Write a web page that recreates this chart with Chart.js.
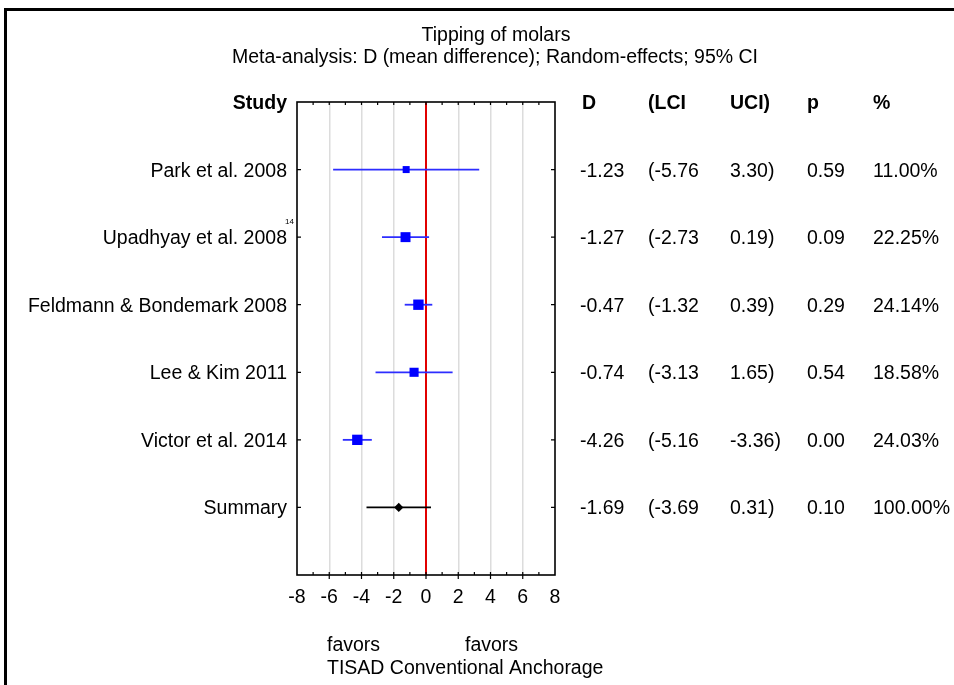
<!DOCTYPE html>
<html>
<head>
<meta charset="utf-8">
<script src="https://cdn.jsdelivr.net/npm/chart.js@4.4.1/dist/chart.umd.min.js"></script>
<style>
html,body{margin:0;padding:0;background:#fff;}
#wrap{position:relative;width:954px;height:685px;}
</style>
</head>
<body>
<div id="wrap"><canvas id="c"></canvas></div>
<script>
// ---- data ----
const studies = ["Park et al. 2008", "Upadhyay et al. 2008", "Feldmann & Bondemark 2008", "Lee & Kim 2011", "Victor et al. 2014", "Summary"];
const meanDiff = [-1.23, -1.27, -0.47, -0.74, -4.26, -1.69];
const lowerCI = [-5.76, -2.73, -1.32, -3.13, -5.16, -3.69];
const upperCI = [3.30, 0.19, 0.39, 1.65, -3.36, 0.31];
const pValues = ["0.59", "0.09", "0.29", "0.54", "0.00", "0.10"];
const weights = [11.00, 22.25, 24.14, 18.58, 24.03, 100.00];
const xTicks = [-8, -6, -4, -2, 0, 2, 4, 6, 8];
const titleLines = ["Tipping of molars", "Meta-analysis: D (mean difference); Random-effects; 95% CI"];
const tableHeaders = ["D", "(LCI", "UCI)", "p", "%"];

const FONT = '"Liberation Sans", Arial, sans-serif';
const BLUE = 'rgb(45,45,255)';
const isSummary = i => i === studies.length - 1;

const datasets = [];
// zero reference line
datasets.push({
  type: 'line', data: [{x: 0, y: 0}, {x: 0, y: 7}],
  borderColor: 'rgb(225,0,0)', borderWidth: 2, pointRadius: 0, order: 3
});
// confidence interval lines
studies.forEach((s, i) => {
  datasets.push({
    type: 'line', data: [{x: lowerCI[i], y: i + 1}, {x: upperCI[i], y: i + 1}],
    borderColor: isSummary(i) ? '#000' : BLUE, borderWidth: 1.8, pointRadius: 0, order: 2
  });
});
// point estimates
datasets.push({
  type: 'scatter',
  data: meanDiff.map((d, i) => ({x: d, y: i + 1})),
  pointStyle: studies.map((s, i) => isSummary(i) ? 'rectRot' : 'rect'),
  pointRadius: weights.map((w, i) => isSummary(i) ? 4.6 : 2.11 * Math.sqrt(w) / 1.414),
  backgroundColor: studies.map((s, i) => isSummary(i) ? '#000' : 'rgb(0,0,255)'),
  borderColor: studies.map((s, i) => isSummary(i) ? '#000' : 'rgb(0,0,255)'),
  borderWidth: 0, order: 1
});

const decor = {
  id: 'decor',
  afterDraw(chart) {
    const ctx = chart.ctx;
    const ca = chart.chartArea;
    const xs = chart.scales.x, ys = chart.scales.y;
    ctx.save();
    // outer border (top & left)
    ctx.strokeStyle = '#000'; ctx.lineWidth = 3;
    ctx.beginPath(); ctx.moveTo(5.5, 700); ctx.lineTo(5.5, 9.5); ctx.lineTo(960, 9.5); ctx.stroke();
    // plot frame
    ctx.lineWidth = 1.6;
    ctx.strokeRect(ca.left, ca.top, ca.right - ca.left, ca.bottom - ca.top);
    // tick marks on top / bottom
    ctx.lineWidth = 1.2;
    for (let v = -7; v <= 7; v++) {
      const px = xs.getPixelForValue(v);
      const major = v % 2 === 0;
      ctx.beginPath();
      ctx.moveTo(px, ca.top); ctx.lineTo(px, ca.top + 3);
      if (major) { ctx.moveTo(px, ca.bottom + 4); ctx.lineTo(px, ca.bottom - 3); }
      else { ctx.moveTo(px, ca.bottom); ctx.lineTo(px, ca.bottom - 3); }
      ctx.stroke();
    }
    // row tick marks on left / right
    studies.forEach((s, i) => {
      const py = ys.getPixelForValue(i + 1);
      ctx.beginPath();
      ctx.moveTo(ca.left, py); ctx.lineTo(ca.left + 4, py);
      ctx.moveTo(ca.right, py); ctx.lineTo(ca.right - 4, py);
      ctx.stroke();
    });
    // titles
    ctx.fillStyle = '#000';
    ctx.font = '19.5px ' + FONT;
    ctx.textAlign = 'center'; ctx.textBaseline = 'alphabetic';
    ctx.fillText(titleLines[0], 496, 41);
    ctx.fillText(titleLines[1], 495, 62.5);
    // Study header
    ctx.font = 'bold 19.5px ' + FONT;
    ctx.textAlign = 'right';
    ctx.fillText('Study', 287, ys.getPixelForValue(0) + 7);
    // study labels
    ctx.font = '19.5px ' + FONT;
    studies.forEach((s, i) => {
      const py = ys.getPixelForValue(i + 1);
      ctx.fillText(s, 287, py + 7);
    });
    // superscript reference
    ctx.font = '8px ' + FONT; ctx.textAlign = 'left';
    ctx.fillText('14', 285, ys.getPixelForValue(2) - 13);
    // table
    const colX = [580, 648, 730, 807, 873];
    ctx.font = 'bold 19.5px ' + FONT; ctx.textAlign = 'left';
    tableHeaders.forEach((h, j) => ctx.fillText(h, colX[j] + (j === 0 ? 2 : 0), ys.getPixelForValue(0) + 7));
    ctx.font = '19.5px ' + FONT;
    studies.forEach((s, i) => {
      const py = ys.getPixelForValue(i + 1) + 7;
      const row = [meanDiff[i].toFixed(2), '(' + lowerCI[i].toFixed(2), upperCI[i].toFixed(2) + ')', pValues[i], weights[i].toFixed(2) + '%'];
      row.forEach((t, j) => ctx.fillText(t, colX[j], py));
    });
    // bottom annotation
    ctx.fillText('favors', 327, 651);
    ctx.fillText('favors', 465, 651);
    ctx.fillText('TISAD Conventional Anchorage', 327, 674);
    ctx.restore();
  }
};

new Chart(document.getElementById('c'), {
  data: {datasets},
  options: {
    responsive: true, maintainAspectRatio: false, animation: false,
    layout: {padding: {top: 102, right: 399, left: 0, bottom: 0}},
    plugins: {legend: {display: false}, tooltip: {enabled: false}, title: {display: false}},
    scales: {
      x: {
        type: 'linear', min: -8, max: 8,
        afterBuildTicks: s => { s.ticks = xTicks.map(v => ({value: v})); },
        afterFit: s => { s.height = 110; },
        ticks: {color: '#000', font: {size: 19.5, family: FONT}, padding: 10.5, maxRotation: 0, autoSkip: false},
        grid: {
          drawTicks: false, lineWidth: 1.5,
          color: c => (c.tick && (c.tick.value === 0 || Math.abs(c.tick.value) === 8)) ? 'rgba(0,0,0,0)' : 'rgb(220,220,220)'
        },
        border: {display: false}
      },
      y: {
        type: 'linear', min: 0, max: 7, reverse: true,
        afterFit: s => { s.width = 297; },
        ticks: {display: false},
        grid: {display: false, drawTicks: false},
        border: {display: false}
      }
    }
  },
  plugins: [decor]
});
</script>
</body>
</html>
